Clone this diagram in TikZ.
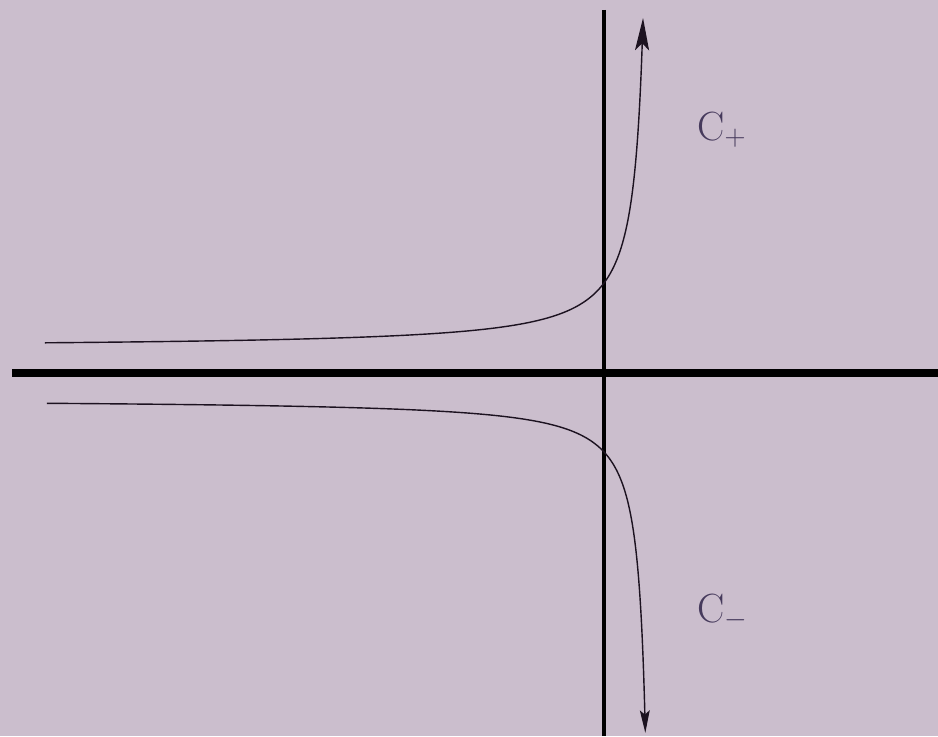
\documentclass[tikz,border=0pt]{standalone}
\usetikzlibrary{arrows.meta}
\definecolor{bgcol}{RGB}{203,190,205}
\definecolor{inkcol}{RGB}{28,18,32}
\definecolor{labcol}{RGB}{70,58,92}
\begin{document}
\begin{tikzpicture}[x=0.025cm,y=-0.025cm,
  axisline/.style={draw=black,line cap=butt},
  curveline/.style={draw=inkcol,line width=1pt},
  lab/.style={text=labcol,font=\fontsize{29}{33}\selectfont,inner sep=0pt}]
\fill[bgcol] (0,0) rectangle (938,736);
\useasboundingbox (0,0) rectangle (938,736);
% axes
\coordinate (xl) at (12,373);
\coordinate (xr) at (938,373);
\coordinate (yt) at (604,10);
\coordinate (yb) at (604,736);
\draw[axisline,line width=5pt] (xl) -- (xr);
\draw[axisline,line width=3.4pt] (yt) -- (yb);
% curves
\draw[curveline,{Stealth[length=23pt,width=10pt,inset=5pt]}-] plot[domain=2.259:6.41,samples=200,smooth]
  ({652.6-exp(\x)},{373-25-3159/exp(\x)});
\draw[curveline,{Stealth[length=16pt,width=7pt,inset=3pt]}-] plot[domain=2.053:6.41,samples=200,smooth]
  ({653.1-exp(\x)},{373+26+2601/exp(\x)});
% labels
\node[lab,anchor=west] (cp) at (697,130) {C$_{+}$};
\node[lab,anchor=west] (cm) at (697,612) {C$_{-}$};
\end{tikzpicture}
\end{document}
